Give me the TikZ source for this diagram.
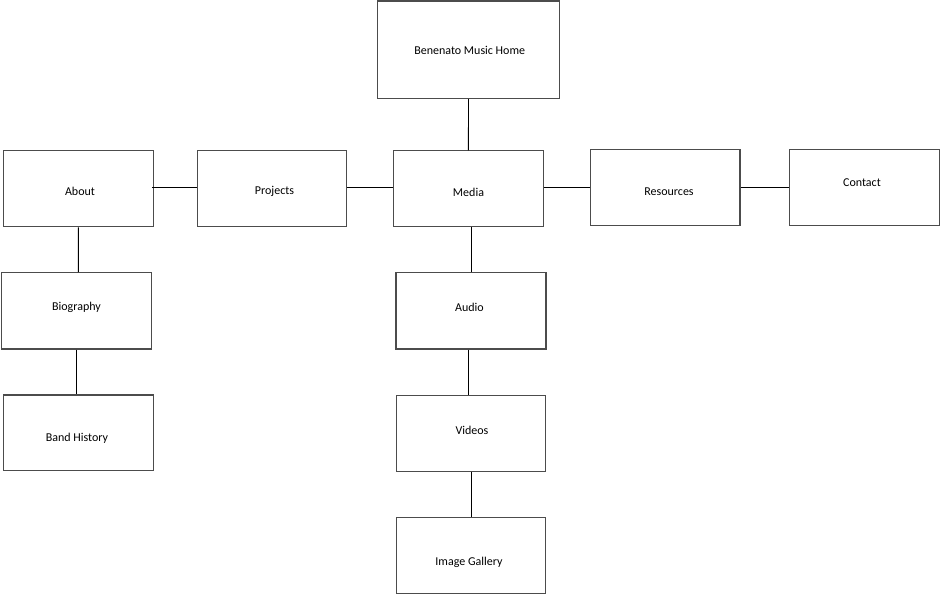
\documentclass[tikz,border=0pt]{standalone}
\usepackage{fontspec}
\setmainfont{Carlito}
\begin{document}
\begin{tikzpicture}[x=1pt,y=-1pt,
  pagebox/.style={draw=black!70,line width=1.1pt,minimum width=150pt,minimum height=76pt,inner sep=0pt,anchor=center},
  boxtext/.style={font=\fontsize{12}{14}\selectfont,inner sep=0pt,anchor=center},
  link/.style={draw=black,line width=0.9pt}]
\useasboundingbox (0,0) rectangle (940,595);
% boxes
\node[pagebox,minimum width=182pt,minimum height=97.5pt] (home) at (468.5,49.75) {};
\node[pagebox] (about) at (78.4,188.7) {};
\node[pagebox,minimum width=149.4pt] (projects) at (272,188.7) {};
\node[pagebox] (media) at (468.4,188.8) {};
\node[pagebox,minimum width=149.3pt] (resources) at (665.3,187.3) {};
\node[pagebox] (contact) at (864.3,187.3) {};
\node[pagebox,minimum width=149.7pt,minimum height=76.3pt] (bio) at (76.2,310.8) {};
\node[pagebox,minimum height=75.7pt] (band) at (78.3,432.8) {};
\node[pagebox,minimum height=76.3pt] (audio) at (471,310.8) {};
\node[pagebox,minimum width=149pt,minimum height=75.7pt] (videos) at (471.2,433.2) {};
\node[pagebox,minimum width=149pt] (gallery) at (471.2,555.8) {};
% texts
\node[boxtext] (t-home) at (469.7,50) {Benenato Music Home};
\node[boxtext] (t-about) at (80,191.5) {About};
\node[boxtext] (t-projects) at (274.5,191.5) {Projects};
\node[boxtext] (t-media) at (468.5,192) {Media};
\node[boxtext] (t-resources) at (669,192) {Resources};
\node[boxtext] (t-contact) at (862,182.5) {Contact};
\node[boxtext] (t-bio) at (76.5,307.5) {Biography};
\node[boxtext] (t-band) at (77,438) {Band History};
\node[boxtext] (t-audio) at (469.5,307) {Audio};
\node[boxtext] (t-videos) at (472,430) {Videos};
\node[boxtext] (t-gallery) at (469,562) {Image Gallery};
% helper coordinates
\coordinate (hrow) at (0,187.3);
\coordinate (xav) at (468.3,0);
% connectors
\draw[link] (home.south) -- (media.north);
\draw[link] ([xshift=-2pt]about.east |- hrow) -- (projects.west |- hrow);
\draw[link] (projects.east |- hrow) -- (media.west |- hrow);
\draw[link] (media.east |- hrow) -- (resources.west |- hrow);
\draw[link] (resources.east |- hrow) -- (contact.west |- hrow);
\draw[link] (about.south -| bio.north) ++(2.1pt,0) -- (bio.north -| about.south);
\draw[link] (bio.south) -- (band.north -| bio.south);
\draw[link] (media.south -| audio.north) -- (audio.north);
\draw[link] (audio.south -| xav) -- (videos.north -| xav);
\draw[link] (videos.south) -- (gallery.north);
\end{tikzpicture}
\end{document}
